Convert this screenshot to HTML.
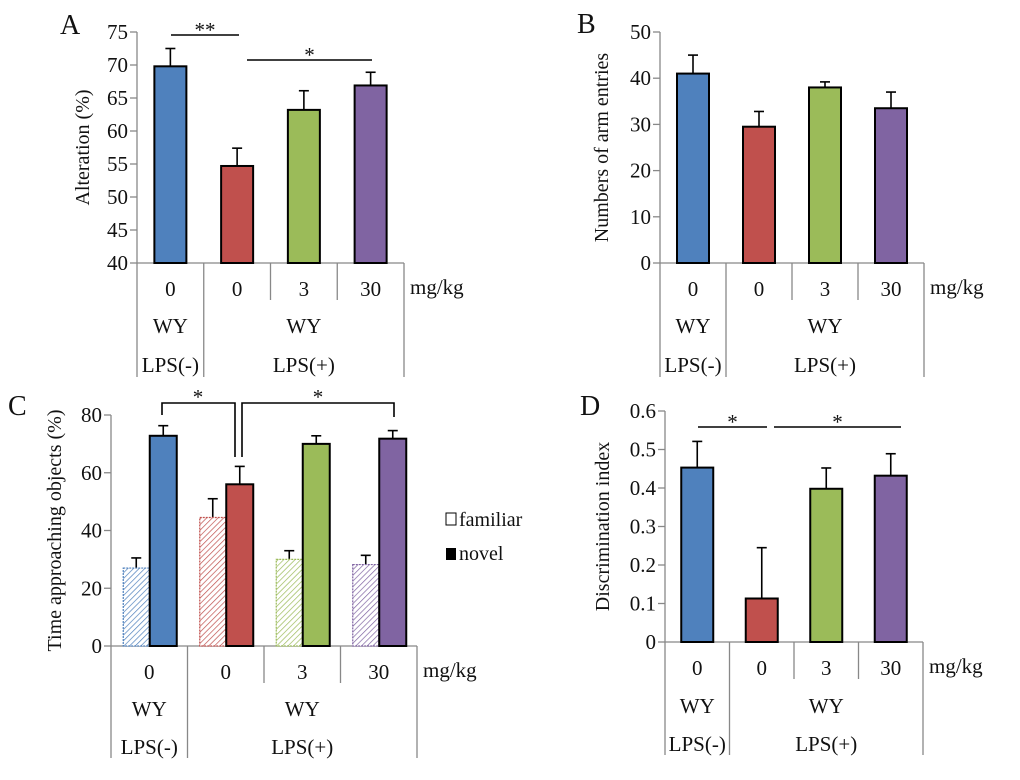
<!DOCTYPE html>
<html><head><meta charset="utf-8"><style>
html,body{margin:0;padding:0;background:#fff}
svg{display:block;font-family:"Liberation Serif","Times New Roman",serif}
svg text{font-family:"Liberation Serif","Times New Roman",serif;fill:#111}
</style></head><body>
<svg id="fig" width="1020" height="780" viewBox="0 0 1020 780" font-family="Liberation Serif, serif">
<defs>
<pattern id="hb" patternUnits="userSpaceOnUse" width="4" height="4" patternTransform="rotate(45)"><rect width="4" height="4" fill="#fff"/><line x1="0" y1="0" x2="0" y2="4" stroke="#4F81BD" stroke-width="1.4"/></pattern>
<pattern id="hr" patternUnits="userSpaceOnUse" width="4" height="4" patternTransform="rotate(45)"><rect width="4" height="4" fill="#fff"/><line x1="0" y1="0" x2="0" y2="4" stroke="#C0504D" stroke-width="1.4"/></pattern>
<pattern id="hg" patternUnits="userSpaceOnUse" width="4" height="4" patternTransform="rotate(45)"><rect width="4" height="4" fill="#fff"/><line x1="0" y1="0" x2="0" y2="4" stroke="#9BBB59" stroke-width="1.4"/></pattern>
<pattern id="hp" patternUnits="userSpaceOnUse" width="4" height="4" patternTransform="rotate(45)"><rect width="4" height="4" fill="#fff"/><line x1="0" y1="0" x2="0" y2="4" stroke="#8064A2" stroke-width="1.4"/></pattern>
</defs>
</svg>
<script>
const doses = ["0","0","3","30"];
const colors = ["#4F81BD","#C0504D","#9BBB59","#8064A2"];
const hatch = ["url(#hb)","url(#hr)","url(#hg)","url(#hp)"];
const aValues = [69.8, 54.7, 63.2, 66.9];
const aErrors = [2.7, 2.7, 2.9, 2.0];
const aTicks = [40,45,50,55,60,65,70,75];
const bValues = [41, 29.5, 38, 33.5];
const bErrors = [4, 3.3, 1.2, 3.5];
const bTicks = [0,10,20,30,40,50];
const cFamiliar = [27, 44.5, 30, 28.2];
const cFamiliarErr = [3.5, 6.5, 3, 3.2];
const cNovel = [72.8, 56, 70, 71.8];
const cNovelErr = [3.5, 6.2, 2.8, 2.8];
const cTicks = [0,20,40,60,80];
const dValues = [0.453, 0.113, 0.398, 0.432];
const dErrors = [0.068, 0.132, 0.054, 0.057];
const dTicks = [0,0.1,0.2,0.3,0.4,0.5,0.6];
const dTickLabels = ["0","0.1","0.2","0.3","0.4","0.5","0.6"];

const NS="http://www.w3.org/2000/svg";
const FONT='"Liberation Serif", serif';
const svg=document.getElementById('fig');
function mk(tag,attrs,parent,txt){const e=document.createElementNS(NS,tag);for(const k in attrs)e.setAttribute(k,attrs[k]);if(tag==='text'){e.setAttribute('font-family','Liberation Serif, serif');e.style.fontFamily=FONT;}if(txt!==undefined)e.textContent=txt;(parent||svg).appendChild(e);return e;}

function panel(P){
  const g=mk('g',{});
  
  
  const y=v=>P.y0+(v-P.min)/(P.max-P.min)*(P.yTop-P.y0);
  const cw=(P.right-P.left)/4;
  const cx=i=>P.left+cw*(i+0.5);
  const L=mk('text',{x:P.lx,y:P.ly,'font-size':28},g,P.id);
  
  
  const ax=mk('line',{x1:P.left,y1:P.yTop,x2:P.left,y2:P.y0,stroke:'#888','stroke-width':1.3},g);
  
  
  P.ticks.forEach((t,i)=>{
    mk('line',{x1:P.left-7,y1:y(t),x2:P.left,y2:y(t),stroke:'#888','stroke-width':1.3},g);
    const tl=mk('text',{x:P.left-9,y:y(t)+7,'font-size':21,'text-anchor':'end'},g,P.tickLabels?P.tickLabels[i]:String(t));
    
    
  });
  const yt=mk('text',{x:0,y:0,'font-size':20,'text-anchor':'middle',transform:`translate(${P.ytx},${(P.yTop+P.y0)/2}) rotate(-90)`},g,P.ytitle);
  
  
  const tb=P.y0;
  mk('line',{x1:P.left,y1:tb,x2:P.right,y2:tb,stroke:'#888','stroke-width':1.3},g);
  [P.left,P.left+cw,P.right].forEach(x=>mk('line',{x1:x,y1:tb,x2:x,y2:tb+P.outer,stroke:'#888','stroke-width':1.3},g));
  [P.left+2*cw,P.left+3*cw].forEach(x=>mk('line',{x1:x,y1:tb,x2:x,y2:tb+P.inner,stroke:'#888','stroke-width':1.3},g));
  doses.forEach((d,i)=>{const t=mk('text',{x:cx(i),y:tb+P.r1,'font-size':21,'text-anchor':'middle'},g,d);
    
    });
  const mg=mk('text',{x:P.right+6,y:tb+P.r1-2,'font-size':21},g,'mg/kg');
  
  
  const m2=P.left+cw*2.5;
  mk('text',{x:cx(0),y:tb+P.r2,'font-size':21,'text-anchor':'middle'},g,'WY');
  mk('text',{x:m2,y:tb+P.r2,'font-size':21,'text-anchor':'middle'},g,'WY');
  mk('text',{x:cx(0),y:tb+P.r3,'font-size':21,'text-anchor':'middle'},g,'LPS(-)');
  mk('text',{x:m2,y:tb+P.r3,'font-size':21,'text-anchor':'middle'},g,'LPS(+)');
  function bar(x0,w,v,e,fill,stroke,name){
    const top=y(v);
    mk('line',{x1:x0+w/2,y1:top,x2:x0+w/2,y2:y(v+e),stroke:'#000','stroke-width':1.6},g);
    mk('line',{x1:x0+w/2-5,y1:y(v+e),x2:x0+w/2+5,y2:y(v+e),stroke:'#000','stroke-width':1.6},g);
    const r=mk('rect',{x:x0,y:top,width:w,height:P.y0-top,fill:fill,stroke:stroke,'stroke-width':stroke==='#000'?2:1.2,'stroke-dasharray':stroke==='#000'?'none':'2 1'},g);
    
    
  }
  if(P.values){
    P.values.forEach((v,i)=>bar(cx(i)-16,32,v,P.errors[i],colors[i],'#000','bar-'+P.id+'-'+i));
  } else {
    P.fam.forEach((v,i)=>bar(cx(i)-26,26,v,P.famErr[i],hatch[i],colors[i],'bar-familiar-'+i));
    P.nov.forEach((v,i)=>bar(cx(i)+0.5,27,v,P.novErr[i],colors[i],'#000','bar-novel-'+i));
  }
  (P.sig||[]).forEach(s=>{
    const ln=mk('line',{x1:s[0],y1:s[2],x2:s[1],y2:s[2],stroke:'#000','stroke-width':1.6},g);
    
    
    mk('text',{x:(s[0]+s[1])/2,y:s[2]+2,'font-size':21,'text-anchor':'middle'},g,s[3]);
  });
  return {g,y,cx};
}

panel({id:'A',lx:60,ly:34,left:137,right:404,yTop:32,y0:263,min:40,max:75,ticks:aTicks,ytitle:'Alteration (%)',ytx:89,
  values:aValues,errors:aErrors,inner:37,outer:114,r1:33,r2:70,r3:109,
  sig:[[171,239,35,'**'],[247,372,60,'*']]});
panel({id:'B',lx:577,ly:33,left:660,right:924,yTop:32,y0:263,min:0,max:50,ticks:bTicks,ytitle:'Numbers of arm entries',ytx:608,
  values:bValues,errors:bErrors,inner:37,outer:114,r1:33,r2:70,r3:109});
const C=panel({id:'C',lx:8,ly:415,left:111,right:417,yTop:415,y0:646,min:0,max:80,ticks:cTicks,ytitle:'Time approaching objects (%)',ytx:61,
  fam:cFamiliar,famErr:cFamiliarErr,nov:cNovel,novErr:cNovelErr,inner:37,outer:112,r1:33,r2:70,r3:108});
panel({id:'D',lx:580,ly:415,left:665,right:923,yTop:411,y0:642,min:0,max:0.6,ticks:dTicks,tickLabels:dTickLabels,ytitle:'Discrimination index',ytx:609,
  values:dValues,errors:dErrors,inner:37,outer:113,r1:33,r2:71,r3:109,
  sig:[[698,767,427,'*'],[774,901,427,'*']]});
const br=mk('path',{d:'M162 415 V403 H235 V457 M242 457 V403 H394 V417',fill:'none',stroke:'#000','stroke-width':1.6},C.g);


mk('text',{x:198,y:404,'font-size':21,'text-anchor':'middle'},C.g,'*');
mk('text',{x:318,y:404,'font-size':21,'text-anchor':'middle'},C.g,'*');
const lg=mk('g',{},svg);


const l1=mk('rect',{x:446,y:513,width:10,height:12,fill:'#fff',stroke:'#000','stroke-width':1},lg);


mk('text',{x:459,y:526,'font-size':20},lg,'familiar');
const l2=mk('rect',{x:446,y:548,width:10,height:12,fill:'#000'},lg);


mk('text',{x:459,y:560,'font-size':20},lg,'novel');
</script>
</body></html>
